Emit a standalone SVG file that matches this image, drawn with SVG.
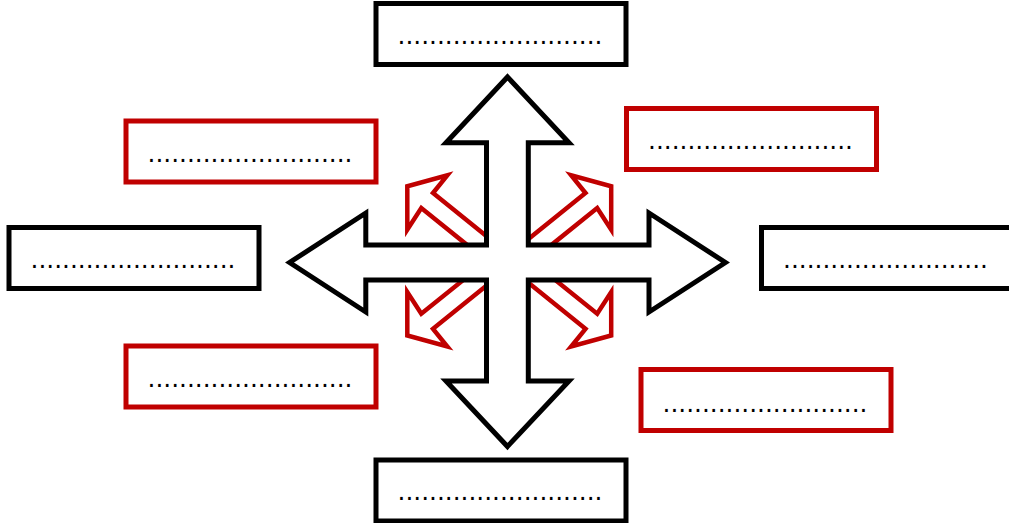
<svg xmlns="http://www.w3.org/2000/svg" width="1009" height="523" viewBox="0 0 1009 523">
<style>
.box{fill:#fff;stroke-width:5}
.blk{stroke:#000}
.red{stroke:#c00000}
.lbl{font-family:"DejaVu Sans",sans-serif;font-size:24.8px;fill:#000;text-anchor:middle}
.rarrow{fill:#fff;stroke:#c00000;stroke-width:4.5;stroke-linejoin:miter;stroke-miterlimit:10}
.cross{fill:#fff;stroke:#000;stroke-width:5;stroke-linejoin:miter;stroke-miterlimit:10}
</style>
<defs>
<polygon id="ra" points="495,243 433,193 447.3,175.3 407.3,186.3 407.3,229.7 421.3,208 475,251.3"/>
</defs>
<rect width="1009" height="523" fill="#fff"/>
<g id="connectors">
<use href="#ra" class="rarrow"/>
<use href="#ra" class="rarrow" transform="translate(1018.5,0) scale(-1,1)"/>
<use href="#ra" class="rarrow" transform="translate(0,521.8) scale(1,-1)"/>
<use href="#ra" class="rarrow" transform="translate(1018.5,521.8) scale(-1,-1)"/>
<polygon class="cross" points="507.5,77 569,142.7 528.3,142.7 528.3,245 649,245 649,213 725.4,262.5 649,312 649,280 528.3,280 528.3,381 569,381 507.5,446.5 446,381 486.5,381 486.5,280 365.8,280 365.8,312 289.6,262.5 365.8,213 365.8,245 486.5,245 486.5,142.7 446,142.7"/>
</g>
<g id="n-top"><rect class="box blk" x="376" y="3.5" width="250" height="61"/><text class="lbl" x="500" y="43.8">..........................</text></g>
<g id="n-ul"><rect class="box red" x="126" y="121" width="250" height="61"/><text class="lbl" x="250" y="161.8">..........................</text></g>
<g id="n-ur"><rect class="box red" x="626.5" y="108.5" width="250" height="61"/><text class="lbl" x="750.5" y="149">..........................</text></g>
<g id="n-left"><rect class="box blk" x="9" y="227.5" width="250" height="61"/><text class="lbl" x="133" y="267.8">..........................</text></g>
<g id="n-right"><rect class="box blk" x="761.5" y="227.5" width="250" height="61"/><text class="lbl" x="885.5" y="268.2">..........................</text></g>
<g id="n-ll"><rect class="box red" x="126" y="346" width="250" height="61"/><text class="lbl" x="250" y="387">..........................</text></g>
<g id="n-lr"><rect class="box red" x="641" y="369.5" width="250" height="61"/><text class="lbl" x="765" y="411.5">..........................</text></g>
<g id="n-bottom"><rect class="box blk" x="376" y="460" width="250" height="61"/><text class="lbl" x="500" y="500">..........................</text></g>
</svg>
